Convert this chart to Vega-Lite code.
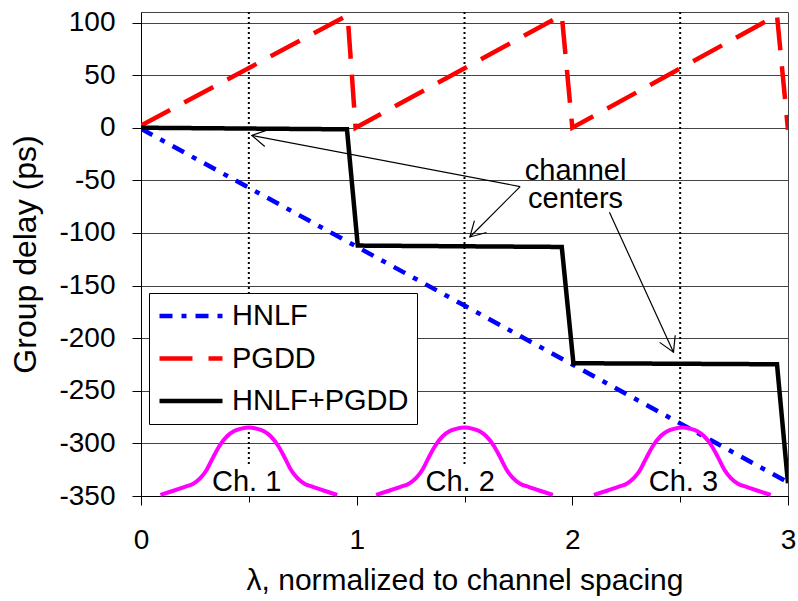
{
  "$schema": "https://vega.github.io/schema/vega-lite/v6.json",
  "width": 647,
  "height": 484,
  "autosize": {"type": "none"},
  "padding": {"left": 141, "top": 12, "right": 10, "bottom": 105},
  "background": "white",
  "config": {
    "font": "Liberation Sans",
    "view": {"stroke": "#444", "strokeWidth": 1},
    "axis": {"labelFont": "Liberation Sans", "titleFont": "Liberation Sans", "labelColor": "black", "titleColor": "black", "titleFontWeight": "normal", "tickColor": "black", "domainColor": "black", "domainWidth": 1, "tickWidth": 1}
  },
  "datasets": {
    "series": [
      {"lam": 0, "delay": -1, "series": "HNLF"},
      {"lam": 0.5, "delay": -57, "series": "HNLF"},
      {"lam": 1, "delay": -113, "series": "HNLF"},
      {"lam": 1.5, "delay": -169, "series": "HNLF"},
      {"lam": 2, "delay": -225, "series": "HNLF"},
      {"lam": 2.5, "delay": -281, "series": "HNLF"},
      {"lam": 3, "delay": -337, "series": "HNLF"},
      {"lam": 0, "delay": 2, "series": "PGDD"},
      {"lam": 0.958, "delay": 107, "series": "PGDD"},
      {"lam": 0.995, "delay": 0, "series": "PGDD"},
      {"lam": 1.951, "delay": 107, "series": "PGDD"},
      {"lam": 2.0, "delay": 0, "series": "PGDD"},
      {"lam": 2.949, "delay": 107, "series": "PGDD"},
      {"lam": 3.0, "delay": -2, "series": "PGDD"},
      {"lam": 0, "delay": 0, "series": "HNLF+PGDD"},
      {"lam": 0.955, "delay": -1.5, "series": "HNLF+PGDD"},
      {"lam": 1.005, "delay": -112, "series": "HNLF+PGDD"},
      {"lam": 1.951, "delay": -113.3, "series": "HNLF+PGDD"},
      {"lam": 2.005, "delay": -223.8, "series": "HNLF+PGDD"},
      {"lam": 2.949, "delay": -224.8, "series": "HNLF+PGDD"},
      {"lam": 3.0, "delay": -338, "series": "HNLF+PGDD"}
    ],
    "spectra": [
      {"lam": 0.09, "amp": -349, "ch": 1}, {"lam": 0.15, "amp": -345, "ch": 1}, {"lam": 0.2, "amp": -341.5, "ch": 1}, {"lam": 0.24, "amp": -338.5, "ch": 1}, {"lam": 0.275, "amp": -333, "ch": 1}, {"lam": 0.305, "amp": -325, "ch": 1}, {"lam": 0.335, "amp": -313, "ch": 1}, {"lam": 0.365, "amp": -302, "ch": 1}, {"lam": 0.4, "amp": -293, "ch": 1}, {"lam": 0.43, "amp": -288.5, "ch": 1}, {"lam": 0.465, "amp": -286, "ch": 1}, {"lam": 0.5, "amp": -285, "ch": 1}, {"lam": 0.535, "amp": -286, "ch": 1}, {"lam": 0.57, "amp": -288.5, "ch": 1}, {"lam": 0.6, "amp": -293, "ch": 1}, {"lam": 0.635, "amp": -302, "ch": 1}, {"lam": 0.665, "amp": -313, "ch": 1}, {"lam": 0.695, "amp": -325, "ch": 1}, {"lam": 0.725, "amp": -333, "ch": 1}, {"lam": 0.76, "amp": -338.5, "ch": 1}, {"lam": 0.8, "amp": -341.5, "ch": 1}, {"lam": 0.85, "amp": -345, "ch": 1}, {"lam": 0.91, "amp": -349, "ch": 1},
      {"lam": 1.09, "amp": -349, "ch": 2}, {"lam": 1.15, "amp": -345, "ch": 2}, {"lam": 1.2, "amp": -341.5, "ch": 2}, {"lam": 1.24, "amp": -338.5, "ch": 2}, {"lam": 1.275, "amp": -333, "ch": 2}, {"lam": 1.305, "amp": -325, "ch": 2}, {"lam": 1.335, "amp": -313, "ch": 2}, {"lam": 1.365, "amp": -302, "ch": 2}, {"lam": 1.4, "amp": -293, "ch": 2}, {"lam": 1.43, "amp": -288.5, "ch": 2}, {"lam": 1.465, "amp": -286, "ch": 2}, {"lam": 1.5, "amp": -285, "ch": 2}, {"lam": 1.535, "amp": -286, "ch": 2}, {"lam": 1.57, "amp": -288.5, "ch": 2}, {"lam": 1.6, "amp": -293, "ch": 2}, {"lam": 1.635, "amp": -302, "ch": 2}, {"lam": 1.665, "amp": -313, "ch": 2}, {"lam": 1.695, "amp": -325, "ch": 2}, {"lam": 1.725, "amp": -333, "ch": 2}, {"lam": 1.76, "amp": -338.5, "ch": 2}, {"lam": 1.8, "amp": -341.5, "ch": 2}, {"lam": 1.85, "amp": -345, "ch": 2}, {"lam": 1.91, "amp": -349, "ch": 2},
      {"lam": 2.1, "amp": -349, "ch": 3}, {"lam": 2.16, "amp": -345, "ch": 3}, {"lam": 2.21, "amp": -341.5, "ch": 3}, {"lam": 2.25, "amp": -338.5, "ch": 3}, {"lam": 2.285, "amp": -333, "ch": 3}, {"lam": 2.315, "amp": -325, "ch": 3}, {"lam": 2.345, "amp": -313, "ch": 3}, {"lam": 2.375, "amp": -302, "ch": 3}, {"lam": 2.41, "amp": -293, "ch": 3}, {"lam": 2.44, "amp": -288.5, "ch": 3}, {"lam": 2.475, "amp": -286, "ch": 3}, {"lam": 2.51, "amp": -285, "ch": 3}, {"lam": 2.545, "amp": -286, "ch": 3}, {"lam": 2.58, "amp": -288.5, "ch": 3}, {"lam": 2.61, "amp": -293, "ch": 3}, {"lam": 2.645, "amp": -302, "ch": 3}, {"lam": 2.675, "amp": -313, "ch": 3}, {"lam": 2.705, "amp": -325, "ch": 3}, {"lam": 2.735, "amp": -333, "ch": 3}, {"lam": 2.77, "amp": -338.5, "ch": 3}, {"lam": 2.81, "amp": -341.5, "ch": 3}, {"lam": 2.86, "amp": -345, "ch": 3}, {"lam": 2.92, "amp": -349, "ch": 3}
    ],
    "centers": [
      {"lam": 0.5, "top": 110, "bottom": -320},
      {"lam": 1.5, "top": 110, "bottom": -320},
      {"lam": 2.5, "top": 110, "bottom": -320}
    ],
    "arrows": [
      {"lam": 1.758, "delay": -55.9, "arrow": "a1", "k": 1},
      {"lam": 0.514, "delay": -7.3, "arrow": "a1", "k": 2},
      {"lam": 0.574, "delay": -17.9, "arrow": "h1", "k": 1},
      {"lam": 0.514, "delay": -7.3, "arrow": "h1", "k": 2},
      {"lam": 0.588, "delay": -2.0, "arrow": "h1", "k": 3},
      {"lam": 1.758, "delay": -55.9, "arrow": "a2", "k": 1},
      {"lam": 1.525, "delay": -103.8, "arrow": "a2", "k": 2},
      {"lam": 1.602, "delay": -99.6, "arrow": "h2", "k": 1},
      {"lam": 1.525, "delay": -103.8, "arrow": "h2", "k": 2},
      {"lam": 1.546, "delay": -88.2, "arrow": "h2", "k": 3},
      {"lam": 2.172, "delay": -80.4, "arrow": "a3", "k": 1},
      {"lam": 2.469, "delay": -213.3, "arrow": "a3", "k": 2},
      {"lam": 2.477, "delay": -197.2, "arrow": "h3", "k": 1},
      {"lam": 2.469, "delay": -213.3, "arrow": "h3", "k": 2},
      {"lam": 2.405, "delay": -204.0, "arrow": "h3", "k": 3}
    ],
    "labels": [
      {"lam": 0.49, "delay": -345.5, "text": "Ch. 1"},
      {"lam": 1.48, "delay": -345.5, "text": "Ch. 2"},
      {"lam": 2.515, "delay": -345.5, "text": "Ch. 3"},
      {"lam": 2.015, "delay": -49.2, "text": "channel"},
      {"lam": 2.015, "delay": -76.2, "text": "centers"}
    ]
  },
  "encoding": {
    "x": {
      "field": "lam", "type": "quantitative",
      "scale": {"domain": [0, 3], "nice": false, "zero": false},
      "axis": {
        "title": "λ, normalized to channel spacing",
        "titleFontSize": 30, "titlePadding": 11,
        "values": [0, 0.5, 1, 1.5, 2, 2.5, 3],
        "labelExpr": "datum.value % 1 === 0 ? format(datum.value, 'd') : ''",
        "labelFontSize": 28, "labelPadding": 21,
        "tickSize": {"condition": {"test": "datum.value % 1 !== 0", "value": 6}, "value": 9},
        "grid": false, "labelFlush": false, "labelOverlap": false
      }
    }
  },
  "layer": [
    {
      "data": {"name": "centers"},
      "mark": {"type": "rule", "color": "black", "strokeWidth": 2, "strokeDash": [2, 3]},
      "encoding": {
        "y": {"field": "top", "type": "quantitative", "scale": {"domain": [-350, 110], "nice": false, "zero": false},
          "axis": {
            "title": "Group delay (ps)", "titleFontSize": 32, "titlePadding": 16,
            "values": [-350, -300, -250, -200, -150, -100, -50, 0, 50, 100],
            "labelExpr": "replace(format(datum.value, 'd'), '−', '-')",
            "labelFontSize": 28, "labelPadding": 17, "tickSize": 9,
            "grid": true, "gridColor": "#444", "gridWidth": 1, "gridOpacity": 1
          }},
        "y2": {"field": "bottom"}
      }
    },
    {
      "data": {"name": "series"},
      "mark": {"type": "line", "strokeWidth": 4.5, "clip": true},
      "encoding": {
        "y": {"field": "delay", "type": "quantitative"},
        "color": {
          "field": "series", "type": "nominal",
          "scale": {"domain": ["HNLF", "PGDD", "HNLF+PGDD"], "range": ["#0000FF", "#FF0000", "#000000"]},
          "legend": {"title": null, "orient": "none", "legendX": 8, "legendY": 281, "strokeColor": "black", "fillColor": "white", "padding": 8, "labelFontSize": 29, "labelColor": "black", "labelLimit": 400, "labelOffset": 7, "symbolType": "stroke", "symbolSize": 3969, "symbolStrokeWidth": 4.5, "clipHeight": 30, "rowPadding": 12.5}
        },
        "strokeDash": {
          "field": "series", "type": "nominal",
          "scale": {"domain": ["HNLF", "PGDD", "HNLF+PGDD"], "range": [[13, 9, 5, 9], [33, 16], [1, 0]]},
          "legend": {"title": null, "orient": "none", "legendX": 8, "legendY": 281, "strokeColor": "black", "fillColor": "white", "padding": 8, "labelFontSize": 29, "labelColor": "black", "labelLimit": 400, "labelOffset": 7, "symbolType": "stroke", "symbolSize": 3969, "symbolStrokeWidth": 4.5, "clipHeight": 30, "rowPadding": 12.5}
        },
        "order": {"field": "lam", "type": "quantitative"}
      }
    },
    {
      "data": {"name": "spectra"},
      "mark": {"type": "line", "color": "#FF00FF", "strokeWidth": 4, "interpolate": "monotone"},
      "encoding": {
        "y": {"field": "amp", "type": "quantitative"},
        "detail": {"field": "ch", "type": "nominal"}
      }
    },
    {
      "data": {"name": "arrows"},
      "mark": {"type": "line", "color": "black", "strokeWidth": 1.2},
      "encoding": {
        "y": {"field": "delay", "type": "quantitative"},
        "detail": {"field": "arrow", "type": "nominal"},
        "order": {"field": "k", "type": "quantitative"}
      }
    },
    {
      "data": {"name": "labels"},
      "mark": {"type": "text", "fontSize": 29, "color": "black", "align": "center", "baseline": "alphabetic"},
      "encoding": {
        "y": {"field": "delay", "type": "quantitative"},
        "text": {"field": "text"}
      }
    }
  ]
}
